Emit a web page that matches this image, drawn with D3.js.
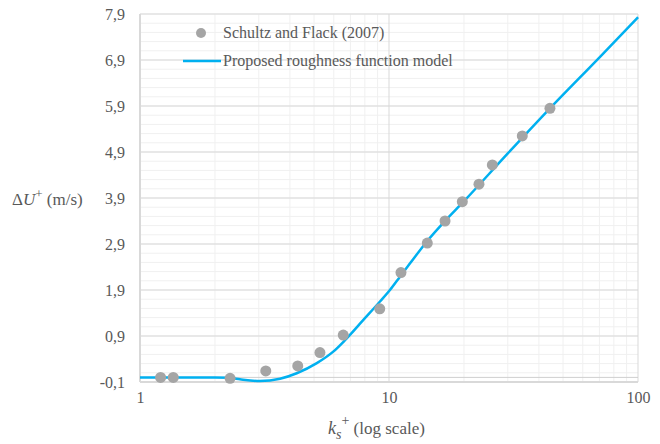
<!DOCTYPE html>
<html>
<head>
<meta charset="utf-8">
<script src="https://cdn.jsdelivr.net/npm/d3@7"></script>
<style>
  body { margin: 0; background: #fff; }
  svg text { font-family: "Liberation Serif", "Tinos", "Nimbus Roman", "Times", "DejaVu Serif", "FreeSerif", "Noto Serif", serif; }
</style>
</head>
<body>
<svg width="660" height="444"></svg>
<script>
// Schultz and Flack (2007) measurements
const measKs = [1.21, 1.36, 2.30, 3.20, 4.30, 5.28, 6.55, 9.18, 11.17, 14.25, 16.79, 19.70, 22.98, 26.0, 34.3, 44.3];
const measDU = [0.00, 0.00, -0.02, 0.14, 0.25, 0.54, 0.92, 1.49, 2.28, 2.92, 3.40, 3.82, 4.20, 4.62, 5.25, 5.85];

// proposed roughness function model
const modelKs = [1.0, 1.5, 2.0, 2.30, 2.52, 3.03, 3.65, 4.26, 5.13, 5.97, 6.66, 7.89, 9.20, 10.09, 11.07, 12.15, 14.17, 16.79, 20.0, 30.0, 44.3, 70.4, 100];
const modelDU = [0.0, 0.0, 0.0, -0.01, -0.04, -0.08, -0.03, 0.09, 0.31, 0.56, 0.81, 1.25, 1.65, 1.90, 2.19, 2.48, 2.95, 3.40, 3.83, 4.87, 5.85, 6.97, 7.83];

const yTicks = [-0.1, 0.9, 1.9, 2.9, 3.9, 4.9, 5.9, 6.9, 7.9];
const xTicks = [1, 10, 100];
const seriesNames = ["Schultz and Flack (2007)", "Proposed roughness function model"];

const svg = d3.select("svg");
const plotL = 140, plotR = 638, plotT = 14, plotB = 382;

const x = d3.scaleLog().domain([1, 100]).range([plotL, plotR]);
const y = d3.scaleLinear().domain([-0.1, 7.9]).range([plotB, plotT]);

const textColor = "#595959";
const g = svg.append("g");

// minor grid
const minorX = [];
[1, 10].forEach(d => { for (let i = 2; i <= 9; i++) minorX.push(d * i); });
const minorY = d3.range(0, 41).map(i => -0.1 + i * 0.2);

g.append("g").selectAll("line")
  .data(minorY)
  .enter().append("line")
  .attr("x1", plotL).attr("x2", plotR)
  .attr("y1", d => y(d)).attr("y2", d => y(d))
  .attr("stroke", "#f0f0f0").attr("stroke-width", 1);

g.append("g").selectAll("line")
  .data(minorX)
  .enter().append("line")
  .attr("x1", d => x(d)).attr("x2", d => x(d))
  .attr("y1", plotT).attr("y2", plotB)
  .attr("stroke", "#f0f0f0").attr("stroke-width", 1);

// major grid
g.append("g").selectAll("line")
  .data(yTicks)
  .enter().append("line")
  .attr("x1", plotL).attr("x2", plotR)
  .attr("y1", d => y(d)).attr("y2", d => y(d))
  .attr("stroke", "#d9d9d9").attr("stroke-width", d => d === -0.1 ? 2 : 1);

g.append("g").selectAll("line")
  .data(xTicks)
  .enter().append("line")
  .attr("x1", d => x(d)).attr("x2", d => x(d))
  .attr("y1", plotT).attr("y2", plotB)
  .attr("stroke", "#d9d9d9").attr("stroke-width", d => d === 1 ? 2 : 1);

// horizontal axis crossing at 0
g.append("line")
  .attr("x1", plotL).attr("x2", plotR)
  .attr("y1", y(0)).attr("y2", y(0))
  .attr("stroke", "#cfcfcf").attr("stroke-width", 1);

// axes labels
const yAxis = d3.axisLeft(y)
  .tickValues(yTicks)
  .tickSize(0)
  .tickPadding(15)
  .tickFormat(d => d3.format(".1f")(d).replace(".", ",").replace("\u2212", "-"));
const ya = g.append("g").attr("transform", `translate(${plotL},0)`).call(yAxis);
ya.attr("font-family", null);
ya.select(".domain").remove();
ya.selectAll("text").attr("fill", textColor).style("font-size", "16px");

const xAxis = d3.axisBottom(x)
  .tickValues(xTicks)
  .tickSize(0)
  .tickPadding(10)
  .tickFormat(d3.format("d"));
const xa = g.append("g").attr("transform", `translate(0,${plotB})`).call(xAxis);
xa.attr("font-family", null);
xa.select(".domain").remove();
xa.selectAll("text").attr("fill", textColor).style("font-size", "16px");

// model line
const line = d3.line()
  .x((d, i) => x(modelKs[i]))
  .y(d => y(d))
  .curve(d3.curveMonotoneX);

g.append("path")
  .datum(modelDU)
  .attr("fill", "none")
  .attr("stroke", "#00b0f0")
  .attr("stroke-width", 2.5)
  .attr("d", line);

// measurements
g.append("g").selectAll("circle")
  .data(measDU)
  .enter().append("circle")
  .attr("cx", (d, i) => x(measKs[i]))
  .attr("cy", d => y(d))
  .attr("r", 5.5)
  .attr("fill", "#a5a5a5");

// legend
const leg = svg.append("g");
leg.append("circle").attr("cx", 201).attr("cy", 33).attr("r", 5).attr("fill", "#a5a5a5");
leg.append("text").attr("x", 223).attr("y", 38).attr("fill", textColor)
  .style("font-size", "16px").text(seriesNames[0]);
leg.append("line").attr("x1", 183).attr("x2", 221).attr("y1", 61).attr("y2", 61)
  .attr("stroke", "#00b0f0").attr("stroke-width", 2.5);
leg.append("text").attr("x", 223).attr("y", 66).attr("fill", textColor)
  .style("font-size", "16px").text(seriesNames[1]);

// axis titles
const yt = svg.append("text").attr("x", 12).attr("y", 205).attr("fill", textColor).style("font-size", "17px");
yt.append("tspan").text("Δ");
yt.append("tspan").style("font-style", "italic").text("U");
yt.append("tspan").attr("dy", -7).style("font-size", "13px").text("+");
yt.append("tspan").attr("dy", 7).text(" (m/s)");

const xt = svg.append("text").attr("x", 328).attr("y", 434).attr("fill", textColor).style("font-size", "18px");
xt.append("tspan").style("font-style", "italic").text("k");
xt.append("tspan").attr("dy", 5).style("font-style", "italic").style("font-size", "14px").text("s");
xt.append("tspan").attr("dy", -14).style("font-size", "14px").text("+");
xt.append("tspan").attr("dy", 9).style("font-size", "17px").text("  (log scale)");
</script>
</body>
</html>
